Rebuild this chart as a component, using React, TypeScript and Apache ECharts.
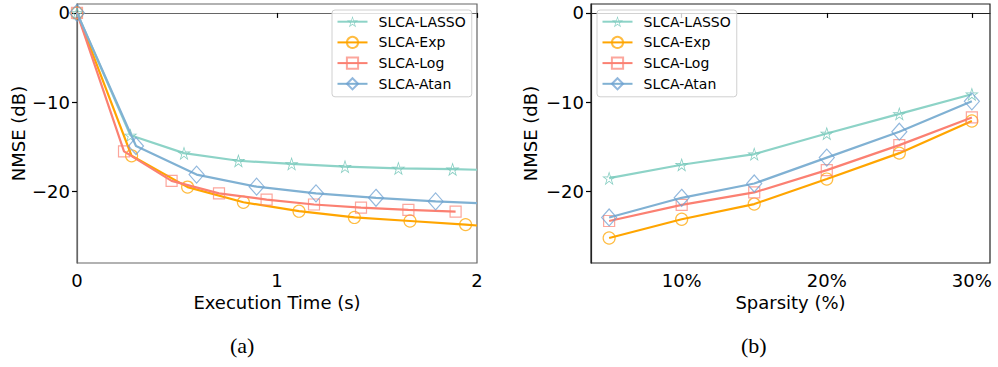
import React, { useEffect, useRef } from "react";
import * as echarts from "echarts";

const seriesNames = ["SLCA-LASSO", "SLCA-Exp", "SLCA-Log", "SLCA-Atan"];
const colors = ["#8dd3c7", "#ffa500", "#fb8072", "#80b1d3"];
const markerEdge = ["rgba(120,200,186,0.9)", "rgba(255,165,0,0.75)", "rgba(251,128,114,0.7)", "rgba(110,160,210,0.75)"];

// (a) Execution time (s) vs NMSE (dB): marker points, last entry may be line end without marker
const lassoTime: number[][] = [[0, 0], [0.267, -13.7], [0.535, -15.7], [0.807, -16.55], [1.073, -16.9], [1.34, -17.2], [1.607, -17.4], [1.878, -17.5], [2.0, -17.56]];
const expTime: number[][] = [[0, 0], [0.273, -16.0], [0.553, -19.5], [0.832, -21.2], [1.11, -22.2], [1.387, -22.9], [1.665, -23.3], [1.943, -23.7], [2.0, -23.8]];
const logTime: number[][] = [[0, 0], [0.235, -15.5], [0.473, -18.8], [0.71, -20.2], [0.948, -20.9], [1.185, -21.45], [1.42, -21.8], [1.657, -22.05], [1.893, -22.25]];
const atanTime: number[][] = [[0, 0], [0.295, -14.9], [0.598, -18.1], [0.898, -19.45], [1.195, -20.2], [1.495, -20.7], [1.793, -21.1], [2.0, -21.3]];
const lineEndsWithoutMarker = [true, true, false, true];

// (b) Sparsity (%) vs NMSE (dB)
const sparsity = [5, 10, 15, 20, 25, 30];
const lassoSp = [-18.5, -17.0, -15.8, -13.5, -11.3, -9.1];
const expSp = [-25.2, -23.1, -21.4, -18.6, -15.7, -12.1];
const logSp = [-23.3, -21.5, -20.1, -17.6, -14.8, -11.7];
const atanSp = [-22.9, -20.7, -19.1, -16.2, -13.3, -9.9];

const yTicks = [-20, -10, 0];
const xTicksA = [0, 1, 2];
const xTicksB = [10, 20, 30];

// hollow star drawn as an outline ring (outer star + reversed inner star)
const STAR =
  "path://M12,0 L14.69,8.29 L23.41,8.29 L16.36,13.42 L19.05,21.71 L12,16.58 L4.95,21.71 L7.64,13.42 L0.59,8.29 L9.31,8.29 Z " +
  "M12,3.8 L10.30,9.65 L4.20,9.47 L9.24,12.90 L7.18,18.63 L12,14.9 L16.82,18.63 L14.76,12.90 L19.80,9.47 L13.70,9.65 Z";
const symbols = [STAR, "circle", "rect", "diamond"];
const symbolSizes: any[] = [14, 12, 11, [15, 17]];

const FONT = "'DejaVu Sans', sans-serif";
const fmtMinus = (v: number) => (v < 0 ? "\u2212" + Math.abs(v) : String(v));

export default function App() {
  const ref = useRef<HTMLDivElement>(null);
  useEffect(() => {
    if (!ref.current) return;
    const chart = echarts.init(ref.current, null, { renderer: "svg" });
    const timeData = [lassoTime, expTime, logTime, atanTime];
    const spData = [lassoSp, expSp, logSp, atanSp];

    const mkSeries = (i: number, grid: number, data: any[]) => ({
      name: seriesNames[i],
      type: "line",
      xAxisIndex: grid,
      yAxisIndex: grid,
      data,
      symbol: symbols[i],
      symbolSize: symbolSizes[i],
      showAllSymbol: true,
      lineStyle: { color: colors[i], width: 2.2 },
      itemStyle:
        i === 0
          ? { color: markerEdge[i], borderWidth: 0 }
          : { color: "rgba(255,255,255,0)", borderColor: markerEdge[i], borderWidth: 1.2 },
      emphasis: { disabled: true },
      z: 2 + i,
    });

    const series: any[] = [];
    for (let i = 0; i < 4; i++) {
      const d = timeData[i].map((p, k) => {
        const last = k === timeData[i].length - 1;
        if (last && lineEndsWithoutMarker[i]) return { value: p, symbol: "none" };
        return { value: p };
      });
      series.push(mkSeries(i, 0, d));
    }
    for (let i = 0; i < 4; i++) {
      series.push(mkSeries(i, 1, sparsity.map((x, k) => [x, spData[i][k]])));
    }

    const axisCommon = (color: string) => ({
      axisLine: { show: true, lineStyle: { color, width: 1.2 } },
      splitLine: { show: false },
      minorTick: { show: false },
    });

    const yAxis = (grid: number, color: string) => ({
      type: "value",
      gridIndex: grid,
      min: -28,
      max: 1,
      name: "NMSE (dB)",
      nameLocation: "middle",
      nameGap: grid === 0 ? 50 : 52,
      nameTextStyle: { fontFamily: FONT, fontSize: 18, color: "#000" },
      ...axisCommon(color),
      axisTick: { show: true, length: 5, customValues: yTicks, lineStyle: { color: "#000", width: 1.2 } },
      axisLabel: { customValues: yTicks, formatter: fmtMinus, fontFamily: FONT, fontSize: 18, color: "#000", margin: 7 },
    });

    const legend = (left: number) => ({
      left,
      top: 10,
      orient: "vertical",
      data: seriesNames,
      itemWidth: 30,
      itemHeight: 14,
      itemGap: 6.7,
      padding: [4.7, 6, 6, 4.5],
      backgroundColor: "rgba(255,255,255,0.8)",
      borderColor: "#d0d0d0",
      borderWidth: 1,
      borderRadius: 3,
      selectedMode: false,
      textStyle: { fontFamily: FONT, fontSize: 14, color: "#000", padding: [0, 0, 0, 6] },
    });

    chart.setOption({
      animation: false,
      backgroundColor: "#fff",
      grid: [
        { left: 77, width: 400, top: 4, height: 259, show: true, borderColor: "#666", borderWidth: 1.2, backgroundColor: "transparent" },
        { left: 591, width: 399, top: 4, height: 259, show: true, borderColor: "#222", borderWidth: 1.2, backgroundColor: "transparent" },
      ],
      xAxis: [
        {
          type: "value",
          gridIndex: 0,
          min: 0,
          max: 2,
          name: "Execution Time (s)",
          nameLocation: "middle",
          nameGap: 28,
          nameTextStyle: { fontFamily: FONT, fontSize: 18, color: "#000" },
          ...axisCommon("#666"),
          axisTick: { show: true, length: 5, customValues: xTicksA, lineStyle: { color: "#000", width: 1.2 } },
          axisLabel: { customValues: xTicksA, fontFamily: FONT, fontSize: 18, color: "#000", margin: 8 },
        },
        {
          type: "value",
          gridIndex: 1,
          min: 3.75,
          max: 31.25,
          name: "Sparsity (%)",
          nameLocation: "middle",
          nameGap: 28,
          nameTextStyle: { fontFamily: FONT, fontSize: 18, color: "#000" },
          ...axisCommon("#222"),
          axisTick: { show: true, length: 5, customValues: xTicksB, lineStyle: { color: "#000", width: 1.2 } },
          axisLabel: { customValues: xTicksB, formatter: (v: number) => v + "%", fontFamily: FONT, fontSize: 18, color: "#000", margin: 8 },
        },
      ],
      yAxis: [yAxis(0, "#666"), yAxis(1, "#222")],
      legend: [legend(332), legend(597)],
      graphic: [
        { type: "text", left: 246 - 16, top: 334, style: { text: "(a)", font: "22px 'Liberation Serif'", fill: "#000" } },
        { type: "text", left: 757 - 16, top: 334, style: { text: "(b)", font: "22px 'Liberation Serif'", fill: "#000" } },
      ],
      series,
    });
    return () => chart.dispose();
  }, []);
  return <div ref={ref} style={{ position: "fixed", left: 0, top: 0, width: 998, height: 367 }} />;
}
